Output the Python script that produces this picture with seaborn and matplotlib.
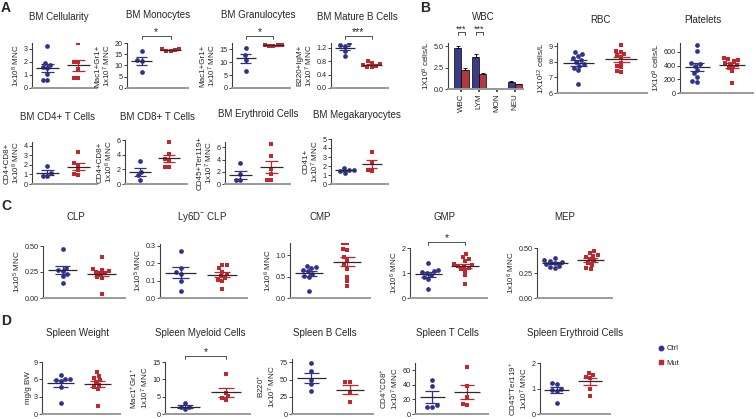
import numpy as np
import pandas as pd
import matplotlib
matplotlib.use("Agg")
import matplotlib.pyplot as plt
import matplotlib.transforms as mtransforms
from matplotlib.lines import Line2D
from matplotlib.ticker import FormatStrFormatter
import seaborn as sns
import warnings
warnings.filterwarnings("ignore")

# ---------------- data ----------------
groups = ["Ctrl", "Mut"]

cell_ctrl = [3.2, 1.9, 1.8, 1.6, 1.5, 1.1, 0.65, 0.6]
cell_mut = [3.45, 2.0, 2.0, 1.45, 0.75, 0.75]
mono_ctrl = [16.3, 12.5, 12.0, 7.3]
mono_mut = [17.3, 16.6, 16.9, 16.5, 17.2]
gran_ctrl = [15.4, 12.8, 11.0, 6.8]
gran_mut = [16.9, 16.3, 16.6, 16.2, 16.8]
matb_ctrl = [1.35, 1.28, 1.27, 1.12, 0.96]
matb_mut = [0.82, 0.76, 0.73, 0.70, 0.66, 0.62, 0.63]
cd4_ctrl = [1.9, 1.15, 0.85, 0.8]
cd4_mut = [3.4, 2.2, 2.0, 1.45, 0.9, 1.0]
cd8_ctrl = [3.2, 1.7, 1.2, 0.6]
cd8_mut = [5.7, 4.1, 3.4, 3.1, 2.3, 2.3]
bmery_ctrl = [3.4, 1.6, 0.6, 0.6]
bmery_mut = [6.5, 4.6, 2.5, 1.7, 0.6, 0.6]
mk_ctrl = [1.75, 1.6, 1.5, 1.45, 1.2]
mk_mut = [3.5, 2.4, 1.6, 1.4]

wbc_cats = ["WBC", "LYM", "MON", "NEU"]
wbc_ctrl_mean = [4.75, 3.75, 0.10, 0.80]
wbc_ctrl_sem = [0.30, 0.30, 0.02, 0.10]
wbc_mut_mean = [2.25, 1.70, 0.05, 0.55]
wbc_mut_sem = [0.15, 0.15, 0.01, 0.06]
rbc_ctrl = [8.6, 8.5, 8.35, 8.25, 8.1, 8.0, 7.85, 7.75, 7.6, 7.45, 6.6]
rbc_mut = [9.05, 8.7, 8.65, 8.5, 8.4, 8.3, 7.95, 7.75, 7.65, 7.4, 7.35]
plt_ctrl = [700, 620, 440, 420, 400, 340, 290, 240, 170, 165]
plt_mut = [515, 490, 480, 460, 440, 430, 410, 385, 360, 320, 145]

clp_ctrl = [0.47, 0.29, 0.27, 0.26, 0.23, 0.21, 0.14]
clp_mut = [0.39, 0.28, 0.27, 0.26, 0.25, 0.24, 0.23, 0.20, 0.19, 0.04]
ly6d_ctrl = [0.27, 0.17, 0.15, 0.14, 0.10, 0.04]
ly6d_mut = [0.19, 0.19, 0.17, 0.15, 0.135, 0.125, 0.115, 0.105, 0.095, 0.05]
cmp_ctrl = [0.74, 0.72, 0.70, 0.66, 0.62, 0.57, 0.52, 0.49, 0.16]
cmp_mut = [1.29, 1.28, 1.13, 1.12, 0.95, 0.89, 0.76, 0.68, 0.50, 0.40, 0.27]
gmp_ctrl = [1.40, 1.12, 1.10, 1.05, 1.00, 0.93, 0.85, 0.78, 0.35]
gmp_mut = [1.77, 1.65, 1.55, 1.50, 1.38, 1.33, 1.30, 1.27, 1.20, 1.15, 1.10, 0.92, 0.58]
mep_ctrl = [0.40, 0.38, 0.37, 0.36, 0.35, 0.34, 0.32, 0.31, 0.30]
mep_mut = [0.47, 0.45, 0.43, 0.42, 0.41, 0.39, 0.37, 0.35, 0.33, 0.30, 0.29]

sw_ctrl = [6.8, 6.1, 6.0, 5.9, 5.7, 4.6, 1.9]
sw_mut = [7.2, 6.5, 6.2, 5.8, 5.5, 5.0, 4.7, 4.3, 1.4]
smy_ctrl = [3.2, 2.1, 1.9, 1.3]
smy_mut = [11.5, 6.2, 5.1, 4.6, 4.0]
sb_ctrl = [74, 63, 50, 43, 33]
sb_mut = [47, 46, 32, 17]
st_ctrl = [46, 39, 12, 10, 10]
st_mut = [64, 38, 24, 14, 13]
sery_ctrl = [1.20, 1.18, 1.00, 0.95, 0.90, 0.42]
sery_mut = [1.60, 1.53, 1.45, 1.42, 1.00, 0.72]

# ---------------- style ----------------
sns.set_theme(style="ticks")
plt.rcParams['font.family'] = ['Liberation Sans', 'DejaVu Sans']
plt.rcParams['mathtext.fontset'] = 'custom'
plt.rcParams['mathtext.rm'] = 'Liberation Sans'
plt.rcParams['mathtext.it'] = 'Liberation Sans'

BLUE = "#2E3192"
RED = "#C1272D"
LEFTC = "#404040"
BOTC = "#9a9a9a"
W, H = 756, 419
fig = plt.figure(figsize=(W / 100, H / 100), dpi=100)


def add_ax(x0, y0, x1, y1):
    return fig.add_axes([x0 / W, 1 - y1 / H, (x1 - x0) / W, (y1 - y0) / H])


def style(ax, ylim, yticks, ylabel, fmt=None):
    for s in ["top", "right"]:
        ax.spines[s].set_visible(False)
    ax.spines["left"].set_color(LEFTC)
    ax.spines["left"].set_linewidth(0.8)
    ax.spines["bottom"].set_color(BOTC)
    ax.spines["bottom"].set_linewidth(1.4)
    ax.set_ylim(*ylim)
    ax.set_yticks(yticks)
    if fmt:
        ax.yaxis.set_major_formatter(FormatStrFormatter(fmt))
    ax.tick_params(axis="y", length=2, width=0.7, color=LEFTC, labelsize=5.2, pad=1)
    ax.tick_params(axis="x", bottom=False, labelbottom=False)
    ax.set_xlabel("")
    ax.set_ylabel(ylabel, fontsize=5.8, labelpad=1.5, linespacing=1.0)


def dot_panel(rect, ctrl, mut, ylim, yticks, ylabel, fmt=None):
    ax = add_ax(*rect)
    sns.swarmplot(x=["Ctrl"] * len(ctrl), y=ctrl, order=groups, color=BLUE,
                  marker="o", size=3.4, ax=ax, warn_thresh=1, zorder=2)
    sns.swarmplot(x=["Mut"] * len(mut), y=mut, order=groups, color=RED,
                  marker="s", size=3.1, ax=ax, warn_thresh=1, zorder=2)
    for i, (vals, c) in enumerate([(ctrl, BLUE), (mut, RED)]):
        v = np.asarray(vals, float)
        m = v.mean()
        s = v.std(ddof=1) / np.sqrt(len(v))
        ax.vlines(i, m - s, m + s, color=c, lw=0.9, zorder=3)
        ax.hlines([m - s, m + s], i - 0.2, i + 0.2, color=c, lw=0.9, zorder=3)
        ax.hlines(m, i - 0.37, i + 0.37, color="#2a2a2a", lw=0.9, zorder=4)
    ax.set_xlim(-0.5, 1.6)
    style(ax, ylim, yticks, ylabel, fmt)
    return ax


def bracket(ax, x1, x2, dy_px, text, tick_px=3, fs=7.5):
    trans = mtransforms.blended_transform_factory(ax.transData, ax.transAxes)
    h = ax.get_position().height * H
    y = 1 + dy_px / h
    yt = y - tick_px / h
    ax.plot([x1, x1, x2, x2], [yt, y, y, yt], transform=trans, color="#333333",
            lw=0.6, clip_on=False)
    ax.text((x1 + x2) / 2, y - 1.5 / h, text, transform=trans, ha="center",
            va="bottom", fontsize=fs, clip_on=False)


def title(x, y, t):
    fig.text(x / W, 1 - y / H, t, ha="center", va="center", fontsize=7)


def letter(x, y, t):
    fig.text(x / W, 1 - y / H, t, ha="left", va="center", fontsize=10,
             fontweight="bold")


# ---------------- Panel A ----------------
letter(1, 8, "A")
title(59, 17, "BM Cellularity")
title(158, 15, "BM Monocytes")
title(258, 15, "BM Granulocytes")
title(357, 17, "BM Mature B Cells")
dot_panel((32, 43, 97, 88), cell_ctrl, cell_mut, (0, 3.45), [0, 1, 2, 3],
          "1x10$^8$ MNC")
a = dot_panel((127, 43, 188, 88), mono_ctrl, mono_mut, (0, 20), [0, 5, 10, 15, 20],
              "Mac1+Gr1+\n1x10$^7$ MNC")
bracket(a, 0, 1, 7, "*")
a = dot_panel((232, 43, 290, 88), gran_ctrl, gran_mut, (0, 17.5), [0, 5, 10, 15],
              "Mac1+Gr1+\n1x10$^7$ MNC")
bracket(a, 0, 1, 7, "*")
a = dot_panel((331, 43, 388, 88), matb_ctrl, matb_mut, (0, 1.35),
              [0, 0.4, 0.8, 1.2], "B220+IgM+\n1x10$^7$ MNC", "%.1f")
bracket(a, 0, 1, 7, "***")

title(58, 117, "BM CD4+ T Cells")
title(157, 117, "BM CD8+ T Cells")
title(258, 114, "BM Erythroid Cells")
title(357, 115, "BM Megakaryocytes")
dot_panel((32, 142, 97, 184), cd4_ctrl, cd4_mut, (0, 4.4), [0, 1, 2, 3, 4],
          "CD4+CD8+\n1x10$^6$ MNC")
dot_panel((125, 140, 187, 184), cd8_ctrl, cd8_mut, (0, 6), [0, 2, 4, 6],
          "CD4+CD8+\n1x10$^6$ MNC")
dot_panel((225, 142, 290, 184), bmery_ctrl, bmery_mut, (0, 6.9), [0, 2, 4, 6],
          "CD45+Ter119+\n1x10$^7$ MNC")
dot_panel((331, 139, 388, 184), mk_ctrl, mk_mut, (0, 5), [0, 1, 2, 3, 4, 5],
          "CD41+\n1x10$^7$ MNC")

# ---------------- Panel B ----------------
letter(420, 8, "B")
title(483, 17, "WBC")
title(600, 20, "RBC")
title(703, 20, "Platelets")

ax = add_ax(448, 43, 523, 89)
wbc_df = pd.DataFrame({
    "cell": wbc_cats * 2,
    "group": ["Ctrl"] * 4 + ["Mut"] * 4,
    "mean": wbc_ctrl_mean + wbc_mut_mean,
})
sns.barplot(data=wbc_df, x="cell", y="mean", hue="group", order=wbc_cats,
            hue_order=groups, palette={"Ctrl": BLUE, "Mut": RED},
            errorbar=None, edgecolor="black", linewidth=0.5, width=0.8,
            legend=False, ax=ax)
for cont, errs in zip(ax.containers, [wbc_ctrl_sem, wbc_mut_sem]):
    for bar, e in zip(cont, errs):
        xc = bar.get_x() + bar.get_width() / 2
        ax.errorbar(xc, bar.get_height(), yerr=[[0], [e]], color="black",
                    lw=0.6, capsize=1.5, capthick=0.6)
ax.set_xlim(-0.75, 3.45)
style(ax, (0, 5.35), [0, 2.5, 5.0], "1X10$^9$ cells/L", "%.1f")
ax.tick_params(axis="x", bottom=True, labelbottom=True, length=2, color=LEFTC,
               labelsize=5.8, rotation=90, pad=1)
bars0 = ax.containers[0]
bars1 = ax.containers[1]
for k in [0, 1]:
    x1 = bars0[k].get_x() + bars0[k].get_width() / 2
    x2 = bars1[k].get_x() + bars1[k].get_width() / 2
    bracket(ax, x1, x2, 11, "***", tick_px=3, fs=6.5)

dot_panel((557, 43, 647, 93), rbc_ctrl, rbc_mut, (6, 9.2), [6, 7, 8, 9],
          "1X10$^{12}$ cells/L")
dot_panel((680, 43, 753, 93), plt_ctrl, plt_mut, (0, 730), [0, 200, 400, 600],
          "1X10$^9$ cells/L")

# ---------------- Panel C ----------------
letter(1, 206, "C")
title(76, 217, "CLP")
title(202, 217, "Ly6D$^{-}$ CLP")
title(320, 217, "CMP")
title(444, 217, "GMP")
title(565, 217, "MEP")
dot_panel((43, 246, 125, 298), clp_ctrl, clp_mut, (0, 0.5), [0, 0.25, 0.5],
          "1x10$^5$ MNC", "%.2f")
dot_panel((160, 244, 247, 298), ly6d_ctrl, ly6d_mut, (0, 0.31),
          [0, 0.1, 0.2, 0.3], "1x10$^5$ MNC", "%.1f")
dot_panel((290, 243, 370, 298), cmp_ctrl, cmp_mut, (0, 1.28), [0, 0.5, 1.0],
          "1x10$^6$ MNC", "%.1f")
a = dot_panel((410, 248, 487, 298), gmp_ctrl, gmp_mut, (0, 2), [0, 1, 2],
              "1x10$^6$ MNC")
bracket(a, 0, 1, 6, "*")
dot_panel((537, 248, 612, 298), mep_ctrl, mep_mut, (0, 0.5), [0, 0.25, 0.5],
          "1x10$^6$ MNC", "%.2f")

# ---------------- Panel D ----------------
letter(1, 321, "D")
title(78, 333, "Spleen Weight")
title(200, 333, "Spleen Myeloid Cells")
title(325, 333, "Spleen B Cells")
title(447, 333, "Spleen T Cells")
title(575, 333, "Spleen Erythroid Cells")
dot_panel((42, 362, 120, 414), sw_ctrl, sw_mut, (0, 9), [0, 3, 6, 9], "mg/g BW")
a = dot_panel((165, 362, 250, 414), smy_ctrl, smy_mut, (0, 15), [0, 5, 10, 15],
              "Mac1$^{+}$Gr1$^{+}$\n1x10$^7$ MNC")
bracket(a, 0, 1, 6.5, "*")
dot_panel((292, 359, 373, 414), sb_ctrl, sb_mut, (0, 80), [0, 25, 50, 75],
          "B220$^{+}$\n1x10$^7$ MNC")
dot_panel((415, 363, 488, 414), st_ctrl, st_mut, (0, 70), [0, 20, 40, 60],
          "CD4$^{+}$CD8$^{+}$\n1x10$^7$ MNC")
dot_panel((540, 363, 610, 414), sery_ctrl, sery_mut, (0, 2), [0, 1, 2],
          "CD45$^{+}$Ter119$^{+}$\n1x10$^7$ MNC")

handles = [Line2D([], [], marker="o", color=BLUE, linestyle="none", markersize=3.2),
           Line2D([], [], marker="s", color=RED, linestyle="none", markersize=3.0)]
fig.legend(handles, groups, loc="upper left", bbox_to_anchor=(653 / W, 1 - 342 / H),
           frameon=False, fontsize=5.5, handletextpad=0.2, labelspacing=0.9,
           handlelength=1.2, borderaxespad=0)

fig.savefig("out.png", dpi=100)
